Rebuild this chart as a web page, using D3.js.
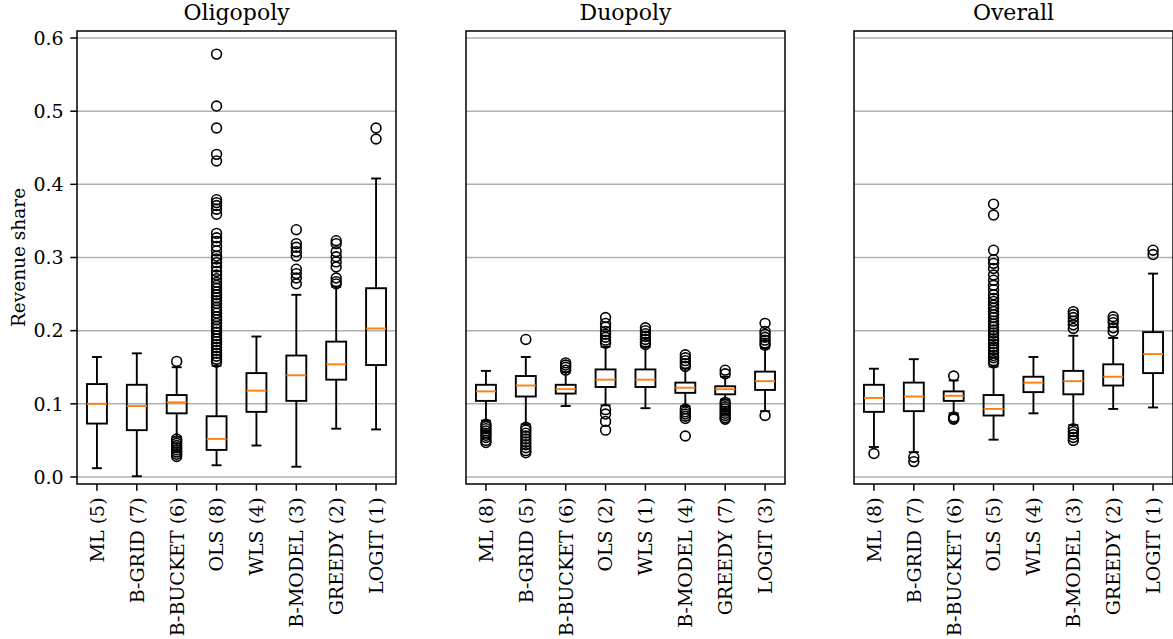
<html>
<head>
<meta charset="utf-8">
<style>
  body { margin: 0; background: #fff; }
  text { font-family: "DejaVu Serif", serif; fill: #000; }
</style>
</head>
<body>
<script src="https://d3js.org/d3.v7.min.js"></script>
<div id="chart"></div>
<script>
// ---- data ----
const methods = ["ML", "B-GRID", "B-BUCKET", "OLS", "WLS", "B-MODEL", "GREEDY", "LOGIT"];
const panelTitles = ["Oligopoly", "Duopoly", "Overall"];
const ranks = [
  [5, 7, 6, 8, 4, 3, 2, 1],
  [8, 5, 6, 2, 1, 4, 7, 3],
  [8, 7, 6, 5, 4, 3, 2, 1]
];
const yTicks = [0, 0.1, 0.2, 0.3, 0.4, 0.5, 0.6];

const whiskLo = [
  [0.012, 0.001, 0.055, 0.016, 0.043, 0.014, 0.066, 0.065],
  [0.077, 0.072, 0.097, 0.098, 0.094, 0.097, 0.106, 0.090],
  [0.041, 0.034, 0.087, 0.051, 0.087, 0.071, 0.093, 0.095]
];
const q1 = [
  [0.073, 0.064, 0.087, 0.037, 0.089, 0.104, 0.133, 0.153],
  [0.104, 0.110, 0.114, 0.123, 0.123, 0.115, 0.113, 0.119],
  [0.089, 0.090, 0.104, 0.084, 0.116, 0.113, 0.125, 0.142]
];
const medians = [
  [0.100, 0.097, 0.102, 0.052, 0.118, 0.139, 0.154, 0.203],
  [0.117, 0.125, 0.120, 0.133, 0.133, 0.122, 0.120, 0.131],
  [0.108, 0.110, 0.111, 0.093, 0.129, 0.131, 0.137, 0.168]
];
const q3 = [
  [0.127, 0.126, 0.112, 0.083, 0.142, 0.166, 0.185, 0.258],
  [0.126, 0.138, 0.126, 0.147, 0.147, 0.129, 0.124, 0.144],
  [0.126, 0.129, 0.117, 0.112, 0.137, 0.145, 0.154, 0.198]
];
const whiskHi = [
  [0.164, 0.169, 0.150, 0.152, 0.192, 0.249, 0.260, 0.408],
  [0.145, 0.164, 0.143, 0.178, 0.178, 0.148, 0.137, 0.176],
  [0.148, 0.161, 0.132, 0.151, 0.164, 0.193, 0.190, 0.278]
];
const fliers = [
  [
    [],
    [],
    [0.158, 0.052, 0.049, 0.046, 0.043, 0.040, 0.037, 0.034, 0.031, 0.028],
    [0.578, 0.507, 0.477, 0.441, 0.432, 0.379, 0.375, 0.371, 0.366, 0.359, 0.333, 0.327,
     0.322, 0.315, 0.309, 0.302, 0.298, 0.293, 0.287, 0.281, 0.276, 0.271, 0.266, 0.262,
     0.258, 0.253, 0.249, 0.245, 0.241, 0.237, 0.232, 0.228, 0.224, 0.219, 0.215, 0.210,
     0.206, 0.202, 0.198, 0.193, 0.189, 0.185, 0.181, 0.177, 0.173, 0.169, 0.165, 0.161, 0.157],
    [],
    [0.338, 0.319, 0.314, 0.308, 0.302, 0.284, 0.278, 0.272, 0.264],
    [0.323, 0.319, 0.308, 0.301, 0.294, 0.287, 0.272, 0.267, 0.264],
    [0.477, 0.462]
  ],
  [
    [0.072, 0.069, 0.066, 0.063, 0.060, 0.057, 0.054, 0.050, 0.047],
    [0.188, 0.068, 0.064, 0.060, 0.056, 0.052, 0.048, 0.044, 0.040, 0.036, 0.033],
    [0.156, 0.153, 0.150, 0.146],
    [0.218, 0.210, 0.205, 0.199, 0.195, 0.191, 0.187, 0.183, 0.092, 0.086, 0.076, 0.064],
    [0.204, 0.200, 0.196, 0.192, 0.188, 0.184, 0.181],
    [0.167, 0.163, 0.159, 0.155, 0.151, 0.093, 0.089, 0.086, 0.083, 0.080, 0.056],
    [0.146, 0.141, 0.102, 0.099, 0.096, 0.093, 0.090, 0.087, 0.084, 0.081, 0.079],
    [0.210, 0.199, 0.195, 0.191, 0.187, 0.183, 0.180, 0.084]
  ],
  [
    [0.032],
    [0.027, 0.021],
    [0.138, 0.082, 0.080, 0.079],
    [0.373, 0.358, 0.310, 0.297, 0.292, 0.285, 0.276, 0.269, 0.262, 0.256, 0.249, 0.244,
     0.240, 0.235, 0.231, 0.226, 0.222, 0.218, 0.213, 0.209, 0.205, 0.201, 0.197, 0.193,
     0.189, 0.186, 0.182, 0.178, 0.174, 0.170, 0.166, 0.163, 0.159, 0.156],
    [],
    [0.226, 0.222, 0.218, 0.213, 0.208, 0.203, 0.066, 0.062, 0.058, 0.054, 0.050],
    [0.219, 0.215, 0.211, 0.204, 0.199],
    [0.310, 0.304]
  ]
];

// ---- layout ----
const W = 1173, H = 639;
const panelLeft = [77, 466, 854];
const pw = 319, topY = 31, ph = 453;
const tickLen = 6.7, tickPad = 6.7;
const orange = "#ff7f0e";

const svg = d3.select("#chart").append("svg")
  .attr("width", W).attr("height", H);

const y = d3.scaleLinear().domain([-0.0096, 0.6096]).range([ph, 0]);
const x = d3.scaleLinear().domain([0.5, 8.5]).range([0, pw]);

panelTitles.forEach((title, p) => {
  const g = svg.append("g").attr("transform", `translate(${panelLeft[p]},${topY})`);

  // grid
  g.selectAll(".grid").data(yTicks).join("line")
    .attr("x1", 0).attr("x2", pw)
    .attr("y1", d => y(d)).attr("y2", d => y(d))
    .attr("stroke", "#b0b0b0").attr("stroke-width", 1.5);

  const rows = methods.map((m, i) => ({
    pos: i + 1, lo: whiskLo[p][i], q1: q1[p][i], med: medians[p][i],
    q3: q3[p][i], hi: whiskHi[p][i], fl: fliers[p][i]
  }));
  const bw = x(1.25) - x(1), cw = x(1.125) - x(1);

  const box = g.selectAll(".box").data(rows).join("g");
  // whiskers
  box.append("line").attr("x1", d => x(d.pos)).attr("x2", d => x(d.pos))
    .attr("y1", d => y(d.q3)).attr("y2", d => y(d.hi));
  box.append("line").attr("x1", d => x(d.pos)).attr("x2", d => x(d.pos))
    .attr("y1", d => y(d.q1)).attr("y2", d => y(d.lo));
  // caps
  box.append("line").attr("x1", d => x(d.pos) - cw).attr("x2", d => x(d.pos) + cw)
    .attr("y1", d => y(d.hi)).attr("y2", d => y(d.hi));
  box.append("line").attr("x1", d => x(d.pos) - cw).attr("x2", d => x(d.pos) + cw)
    .attr("y1", d => y(d.lo)).attr("y2", d => y(d.lo));
  box.selectAll("line").attr("stroke", "#000").attr("stroke-width", 1.9);
  // box
  box.append("rect")
    .attr("x", d => x(d.pos) - bw).attr("width", 2 * bw)
    .attr("y", d => y(d.q3)).attr("height", d => y(d.q1) - y(d.q3))
    .attr("fill", "none").attr("stroke", "#000").attr("stroke-width", 1.9);
  // median
  box.append("line")
    .attr("x1", d => x(d.pos) - bw).attr("x2", d => x(d.pos) + bw)
    .attr("y1", d => y(d.med)).attr("y2", d => y(d.med))
    .attr("stroke", orange).attr("stroke-width", 1.9);
  // fliers
  box.selectAll("circle").data(d => d.fl.map(v => ({ pos: d.pos, v }))).join("circle")
    .attr("cx", d => x(d.pos)).attr("cy", d => y(d.v)).attr("r", 4.9)
    .attr("fill", "none").attr("stroke", "#000").attr("stroke-width", 1.6);

  // frame
  g.append("rect").attr("x", 0).attr("y", 0).attr("width", pw).attr("height", ph)
    .attr("fill", "none").attr("stroke", "#000").attr("stroke-width", 1.5);

  // x axis
  const xa = g.append("g").attr("transform", `translate(0,${ph})`);
  xa.selectAll("line").data(methods).join("line")
    .attr("x1", (d, i) => x(i + 1)).attr("x2", (d, i) => x(i + 1))
    .attr("y1", 0).attr("y2", tickLen)
    .attr("stroke", "#000").attr("stroke-width", 1.5);
  xa.selectAll("text").data(methods).join("text")
    .attr("transform", (d, i) => `translate(${x(i + 1)},${tickLen + tickPad}) rotate(-90)`)
    .attr("text-anchor", "end").attr("dy", "0.36em")
    .style("font-size", "19px")
    .text((d, i) => `${d} (${ranks[p][i]})`);

  // y axis (labels only on the first panel)
  if (p === 0) {
    const ya = g.append("g");
    ya.selectAll("line").data(yTicks).join("line")
      .attr("x1", -tickLen).attr("x2", 0)
      .attr("y1", d => y(d)).attr("y2", d => y(d))
      .attr("stroke", "#000").attr("stroke-width", 1.5);
    ya.selectAll("text").data(yTicks).join("text")
      .attr("x", -tickLen - tickPad).attr("y", d => y(d)).attr("dy", "0.36em")
      .attr("text-anchor", "end").style("font-size", "19px")
      .text(d3.format(".1f"));
    svg.append("text")
      .attr("transform", `translate(25,${topY + ph / 2}) rotate(-90)`)
      .attr("text-anchor", "middle").style("font-size", "18.5px")
      .text("Revenue share");
  }

  // title
  g.append("text").attr("x", pw / 2).attr("y", -11.5)
    .attr("text-anchor", "middle").style("font-size", "22px")
    .text(title);
});
</script>
</body>
</html>
